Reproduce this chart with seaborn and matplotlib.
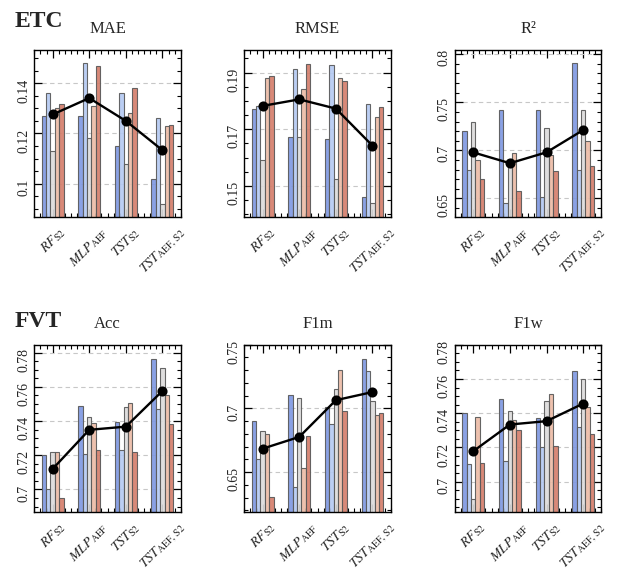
import numpy as np
import pandas as pd
import matplotlib
matplotlib.use("Agg")
import matplotlib.pyplot as plt
from matplotlib.ticker import MultipleLocator, FixedLocator, FuncFormatter
import seaborn as sns

# ---------------- data ----------------
groups = ["RF_S2", "MLP_AEF", "TST_S2", "TST_AEF,S2"]
group_labels = [r"$RF_{\mathrm{S2}}$", r"$MLP_{\mathrm{AEF}}$",
                r"$TST_{\mathrm{S2}}$", r"$TST_{\mathrm{AEF,\,S2}}$"]
variants = ["v1", "v2", "v3", "v4", "v5"]

metrics = ["MAE", "RMSE", "R²", "Acc", "F1m", "F1w"]
row_labels = ["ETC", "FVT"]

# values[variant][group]
mae = [
    [0.1268, 0.1268, 0.1150, 0.1020],
    [0.1360, 0.1480, 0.1360, 0.1260],
    [0.1132, 0.1180, 0.1080, 0.0920],
    [0.1300, 0.1309, 0.1280, 0.1230],
    [0.1318, 0.1468, 0.1380, 0.1235],
]
rmse = [
    [0.1770, 0.1671, 0.1664, 0.1459],
    [0.1783, 0.1912, 0.1926, 0.1789],
    [0.1590, 0.1671, 0.1524, 0.1439],
    [0.1880, 0.1841, 0.1880, 0.1742],
    [0.1889, 0.1932, 0.1870, 0.1780],
]
r2 = [
    [0.7200, 0.7417, 0.7417, 0.7909],
    [0.6796, 0.6450, 0.6510, 0.6796],
    [0.7300, 0.6915, 0.7232, 0.7417],
    [0.6897, 0.6970, 0.6950, 0.7093],
    [0.6702, 0.6580, 0.6790, 0.6841],
]
acc = [
    [0.7203, 0.7490, 0.7395, 0.7761],
    [0.7000, 0.7210, 0.7230, 0.7473],
    [0.7222, 0.7424, 0.7485, 0.7712],
    [0.7222, 0.7391, 0.7506, 0.7553],
    [0.6953, 0.7230, 0.7222, 0.7384],
]
f1m = [
    [0.6900, 0.7102, 0.7013, 0.7386],
    [0.6600, 0.6387, 0.6880, 0.7292],
    [0.6820, 0.7078, 0.7149, 0.7055],
    [0.6800, 0.6530, 0.7300, 0.6948],
    [0.6303, 0.6786, 0.6982, 0.6961],
]
f1w = [
    [0.7400, 0.7481, 0.7370, 0.7649],
    [0.7104, 0.7119, 0.7205, 0.7318],
    [0.6900, 0.7411, 0.7472, 0.7598],
    [0.7378, 0.7359, 0.7510, 0.7438],
    [0.7110, 0.7300, 0.7211, 0.7277],
]
all_values = [mae, rmse, r2, acc, f1m, f1w]

y_limits = [(0.0867, 0.1533), (0.139, 0.198), (0.6307, 0.8045),
            (0.687, 0.7847), (0.619, 0.750), (0.6825, 0.780)]
y_major = [[0.10, 0.12, 0.14], [0.15, 0.17, 0.19], [0.65, 0.70, 0.75, 0.80],
           [0.70, 0.72, 0.74, 0.76, 0.78], [0.65, 0.70, 0.75],
           [0.70, 0.72, 0.74, 0.76, 0.78]]
y_minor_step = [0.005, 0.005, 0.01, 0.005, 0.01, 0.005]

# ---------------- style ----------------
sns.set_theme(style="ticks")
plt.rcParams["font.family"] = ["Liberation Serif", "DejaVu Serif"]
plt.rcParams["mathtext.fontset"] = "stix"

fig = plt.figure(figsize=(6.17, 5.76), dpi=100)
lefts = [0.0556, 0.396, 0.7374]
bottoms = [0.6233, 0.1116]
w, h = 0.2374, 0.290

palette = sns.color_palette("coolwarm", len(variants))

for i, (metric, vals) in enumerate(zip(metrics, all_values)):
    r, c = divmod(i, 3)
    ax = fig.add_axes([lefts[c], bottoms[r], w, h])
    df = pd.DataFrame([
        {"group": g, "variant": v, "value": vals[vi][gi]}
        for vi, v in enumerate(variants) for gi, g in enumerate(groups)
    ])
    ax.set_axisbelow(True)
    sns.barplot(data=df, x="group", y="value", hue="variant", order=groups,
                hue_order=variants, palette=palette, width=0.6, gap=0,
                edgecolor="0.35", linewidth=0.8, alpha=0.92, legend=False,
                errorbar=None, ax=ax, zorder=2)
    sns.pointplot(data=df, x="group", y="value", order=groups, estimator="mean",
                  errorbar=None, color="black", markersize=6, linewidth=1.7,
                  ax=ax, zorder=5)
    ax.set_xlim(-0.5, 3.5)
    ax.set_ylim(*y_limits[i])
    ax.yaxis.set_major_locator(FixedLocator(y_major[i]))
    ax.yaxis.set_minor_locator(MultipleLocator(y_minor_step[i]))
    ax.yaxis.set_major_formatter(FuncFormatter(lambda x, p: f"{round(x, 4):g}"))
    ax.xaxis.set_minor_locator(MultipleLocator(1 / 6))
    ax.set_xticks(range(len(groups)))
    ax.set_xticklabels(group_labels, rotation=45, ha="center", fontsize=10)
    ax.grid(axis="y", which="major", linestyle=(0, (4, 3)), color="0.78",
            linewidth=0.8)
    ax.tick_params(axis="both", which="both", direction="in", top=True,
                   right=True, color="black")
    ax.tick_params(axis="both", which="major", length=5.5, width=0.9)
    ax.tick_params(axis="both", which="minor", length=3, width=0.8)
    ax.tick_params(axis="y", labelsize=10, labelrotation=90, pad=3)
    ax.tick_params(axis="x", pad=6)
    for sp in ax.spines.values():
        sp.set_color("black")
        sp.set_linewidth(1.0)
    ax.set_xlabel("")
    ax.set_ylabel("")
    ax.set_title(metric, fontsize=12, pad=12)

for r, lab in enumerate(row_labels):
    fig.text(0.024, [0.953, 0.432][r], lab, fontsize=17, fontweight="bold",
             ha="left", va="baseline")

fig.savefig("out.png", dpi=100)
